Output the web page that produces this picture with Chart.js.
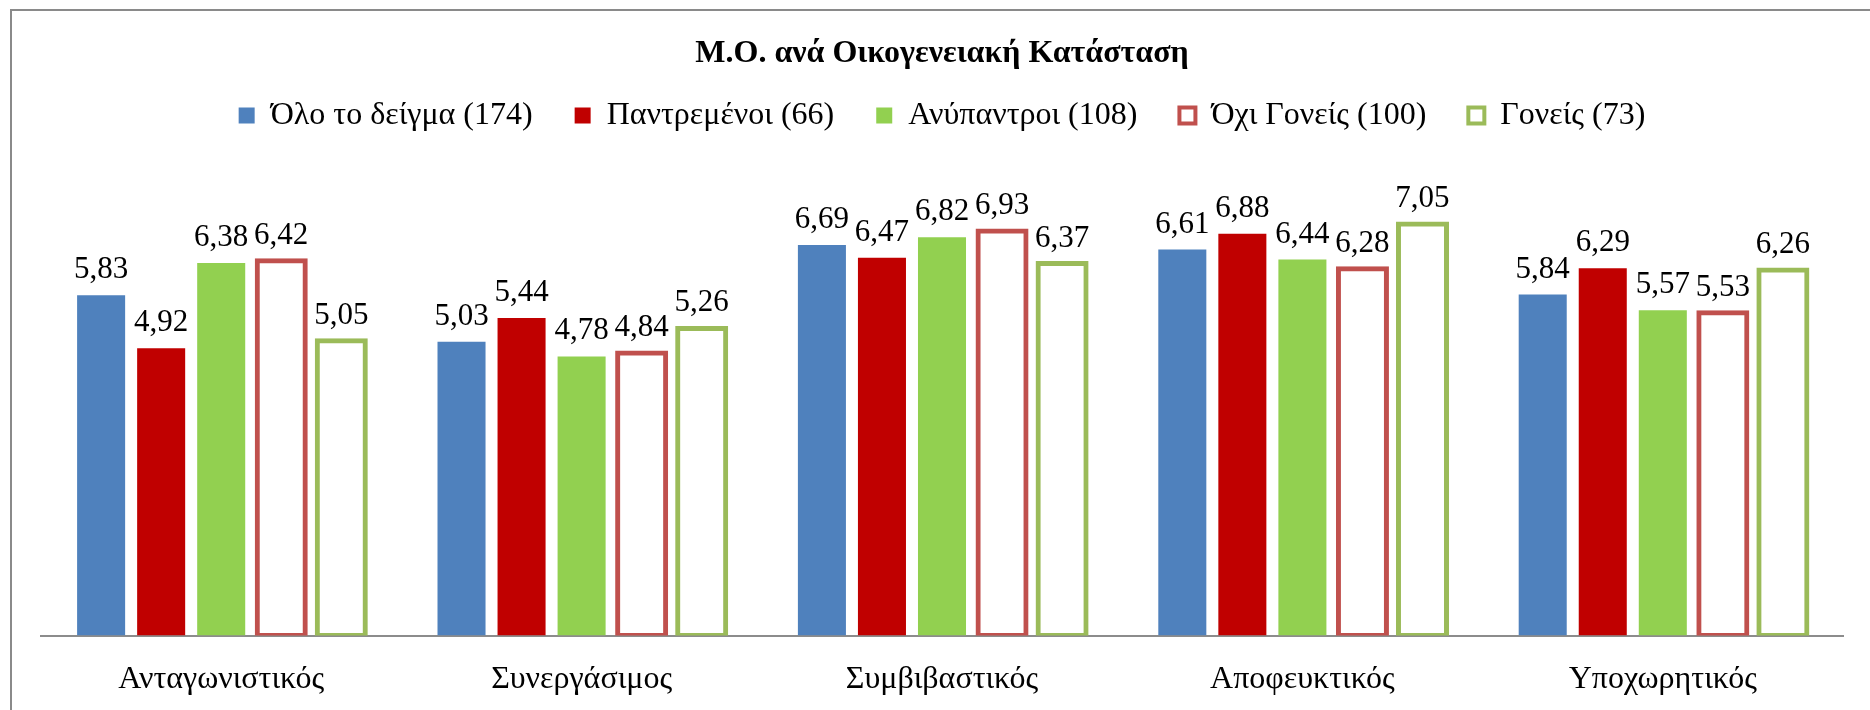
<!DOCTYPE html>
<html>
<head>
<meta charset="utf-8">
<script src="https://cdn.jsdelivr.net/npm/chart.js@4"></script>
<style>
  html, body { margin: 0; padding: 0; background: #fff; }
  #wrap { width: 1870px; height: 710px; }
</style>
</head>
<body>
<div id="wrap"><canvas id="chart"></canvas></div>
<script>
// categories and series
const categories = ['Ανταγωνιστικός', 'Συνεργάσιμος', 'Συμβιβαστικός', 'Αποφευκτικός', 'Υποχωρητικός'];
const seriesNames = ['Όλο το δείγμα (174)', 'Παντρεμένοι (66)', 'Ανύπαντροι (108)', 'Όχι Γονείς (100)', 'Γονείς (73)'];
const allSample = [5.83, 5.03, 6.69, 6.61, 5.84];
const married = [4.92, 5.44, 6.47, 6.88, 6.29];
const unmarried = [6.38, 4.78, 6.82, 6.44, 5.57];
const notParents = [6.42, 4.84, 6.93, 6.28, 5.53];
const parents = [5.05, 5.26, 6.37, 7.05, 6.26];

const FONT = "'Liberation Serif', 'Times New Roman', serif";

// grey frame round the chart (only top and left fit inside the picture)
const framePlugin = {
  id: 'frame',
  beforeDraw(chart) {
    const ctx = chart.ctx;
    ctx.save();
    ctx.strokeStyle = '#8a8a8a';
    ctx.lineWidth = 2;
    ctx.strokeRect(11, 10, chart.width + 20, chart.height + 20);
    ctx.restore();
  }
};

// value labels above each bar, with a decimal comma
const valueLabels = {
  id: 'valueLabels',
  afterDatasetsDraw(chart) {
    const ctx = chart.ctx;
    ctx.save();
    ctx.font = '31px ' + FONT;
    ctx.fillStyle = '#000';
    ctx.textAlign = 'center';
    ctx.textBaseline = 'alphabetic';
    chart.data.datasets.forEach((ds, i) => {
      chart.getDatasetMeta(i).data.forEach((bar, j) => {
        ctx.fillText(ds.data[j].toFixed(2).replace('.', ','), bar.x, bar.y - 17);
      });
    });
    ctx.restore();
  }
};

const filled = (label, data, color) => ({
  label, data,
  backgroundColor: color,
  borderWidth: 0
});
const outlined = (label, data, color) => ({
  label, data,
  backgroundColor: '#ffffff',
  borderColor: color,
  borderWidth: 5,
  borderSkipped: false,
  inflateAmount: 2.5
});

new Chart(document.getElementById('chart'), {
  type: 'bar',
  data: {
    labels: categories,
    datasets: [
      filled(seriesNames[0], allSample, '#4f81bd'),
      filled(seriesNames[1], married, '#c00000'),
      filled(seriesNames[2], unmarried, '#92d050'),
      outlined(seriesNames[3], notParents, '#c0504d'),
      outlined(seriesNames[4], parents, '#9bbb59')
    ]
  },
  options: {
    responsive: true,
    maintainAspectRatio: false,
    animation: false,
    layout: { padding: { top: 0, left: 41, right: 27, bottom: -14 } },
    datasets: {
      bar: { categoryPercentage: 0.833, barPercentage: 0.8 }
    },
    plugins: {
      title: {
        display: true,
        text: 'Μ.Ο. ανά Οικογενειακή Κατάσταση',
        color: '#000',
        font: { family: FONT, size: 32, weight: 'bold' },
        padding: { top: 35, bottom: -16 }
      },
      legend: {
        labels: {
          color: '#000',
          font: { family: FONT, size: 32 },
          boxWidth: 16,
          boxHeight: 16,
          padding: 42,
          generateLabels(chart) {
            const items = Chart.defaults.plugins.legend.labels.generateLabels(chart);
            items.forEach(it => { if (it.lineWidth) it.lineWidth = 4; });
            return items;
          }
        }
      },
      tooltip: { enabled: false }
    },
    scales: {
      x: {
        grid: { display: false, drawTicks: false },
        border: { display: true, color: '#8c8c8c', width: 2 },
        ticks: { color: '#000', font: { family: FONT, size: 32 }, padding: 25 }
      },
      // empty strip between the legend and the bars
      gap: {
        type: 'category',
        position: 'top',
        grid: { display: false, drawTicks: false },
        border: { display: false },
        ticks: { display: false },
        title: { display: true, text: '', padding: { top: 27, bottom: 0 }, font: { size: 1, lineHeight: 0 } }
      },
      y: {
        display: false,
        min: 0,
        max: 8
      }
    }
  },
  plugins: [framePlugin, valueLabels]
});
</script>
</body>
</html>
